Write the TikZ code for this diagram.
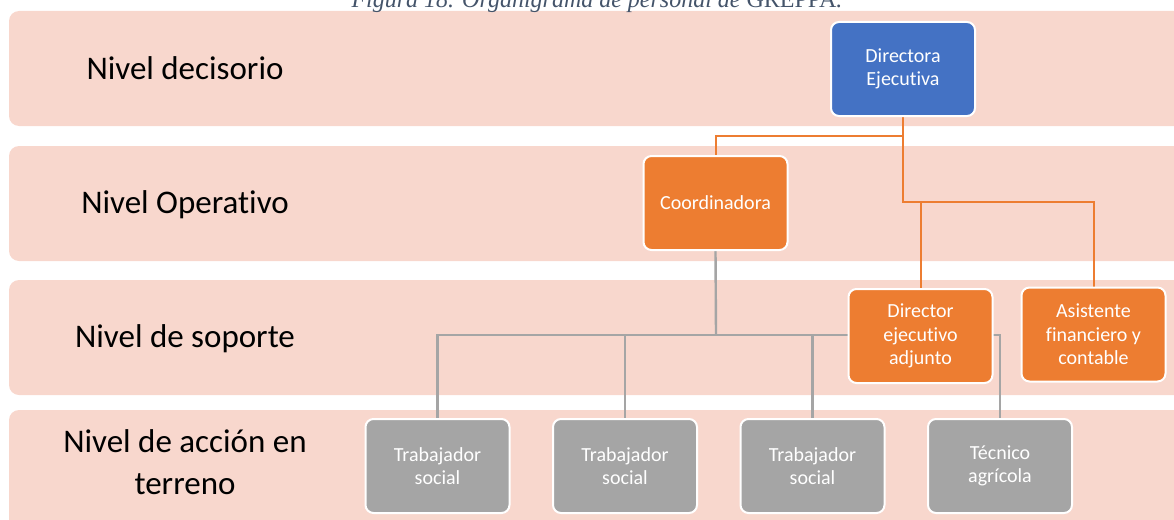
\documentclass[tikz,border=0pt]{standalone}
\usepackage{fontspec}
\setmainfont{Carlito}[Ligatures={NoCommon}]
\newfontfamily\leyendafont{Liberation Serif}
\usepackage{tikz}

\definecolor{banda}{HTML}{F8D7CD}
\definecolor{azul}{HTML}{4472C4}
\definecolor{naranja}{HTML}{ED7D31}
\definecolor{gris}{HTML}{A5A5A5}
\definecolor{leyenda}{HTML}{44546A}

\pgfdeclarelayer{bandas}
\pgfdeclarelayer{lineas}
\pgfsetlayers{bandas,lineas,main}

\tikzset{
  cargo/.style={rectangle,rounded corners=8pt,draw=white,line width=2pt,text=white,
    minimum width=144pt,minimum height=94pt,align=center,inner sep=2pt,
    font=\fontsize{20}{23.5}\selectfont},
  nivel/.style={align=center,font=\fontsize{33}{42}\selectfont},
  lineanaranja/.style={draw=naranja,line width=2pt},
  lineagris/.style={draw=gris,line width=2.4pt}
}

\begin{document}
\begin{tikzpicture}[x=1pt,y=-1pt]

\useasboundingbox (0,0) rectangle (1174,519);

\begin{pgfonlayer}{bandas}
\clip (0,0) rectangle (1174,519);
\fill[banda,rounded corners=10pt] (9,11) rectangle (1200,126);
\fill[banda,rounded corners=10pt] (9,146) rectangle (1200,261);
\fill[banda,rounded corners=10pt] (9,280) rectangle (1200,395);
\fill[banda,rounded corners=10pt] (9,410) rectangle (1200,530);
\end{pgfonlayer}

\node[anchor=base,text=leyenda,font=\leyendafont\fontsize{24}{28}\selectfont\itshape] (titulo) at (597,8)
  {Figura 18. Organigrama de personal de {\upshape GREPPA}.};

\node[nivel] (n1) at (185,68) {Nivel decisorio};
\node[nivel,anchor=base] (n2) at (185,213) {Nivel Operativo};
\node[nivel,anchor=base] (n3) at (185,347) {Nivel de soporte};
\node[nivel] (n4) at (185,462) {Nivel de acción en\\terreno};

\node[cargo,fill=azul] at (903,69) (dir) {Directora\\Ejecutiva};
\node[cargo,fill=naranja] at (715.5,203) (coord) {Coordinadora};
\node[cargo,fill=naranja] at (920.5,336) (adj) {Director\\ejecutivo\\adjunto};
\node[cargo,fill=naranja] at (1093.5,334.5) (asist) {Asistente\\financiero y\\contable};

\node[cargo,fill=gris] at (437.5,466) (trab1) {Trabajador\\social};
\node[cargo,fill=gris] at (625,466) (trab2) {Trabajador\\social};
\node[cargo,fill=gris] at (812.5,466) (trab3) {Trabajador\\social};
\node[cargo,fill=gris] at (1000,466) (tec) {Técnico\\agrícola};

\coordinate (j1) at (903,136);
\coordinate (j2) at (903,202);
\coordinate (g) at (716,335);

\begin{pgfonlayer}{lineas}
\draw[lineanaranja] (dir.south) -- (j2) -| (asist.north);
\draw[lineanaranja] (j1) -| (coord.north);
\draw[lineanaranja] (j2 -| adj.north) -- (adj.north);

\draw[lineagris] (coord.south) -- (g);
\draw[lineagris] (trab1.north) |- (g) -| (tec.north);
\draw[lineagris] (trab2.north) -- (trab2.north |- g);
\draw[lineagris] (trab3.north) -- (trab3.north |- g);
\end{pgfonlayer}

\end{tikzpicture}
\end{document}
